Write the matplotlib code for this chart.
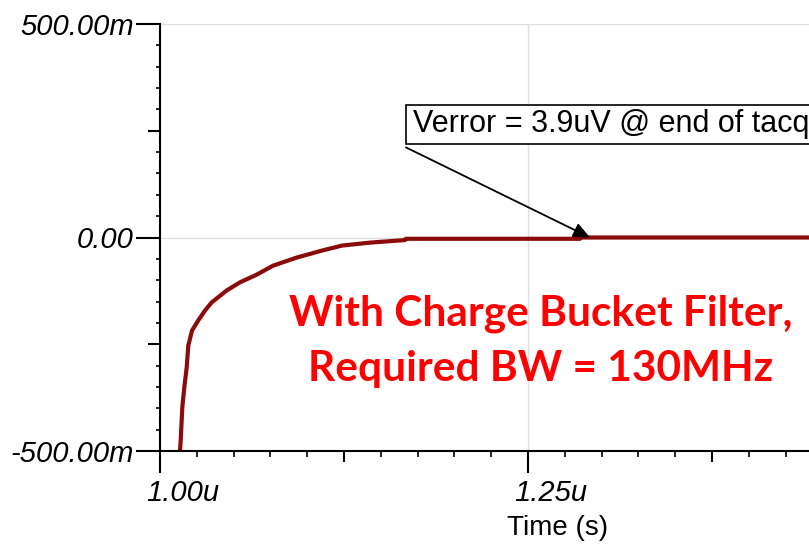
import matplotlib
matplotlib.use("Agg")
import matplotlib.pyplot as plt
from matplotlib.patches import Rectangle
from matplotlib.transforms import ScaledTranslation, blended_transform_factory

# values (time in us, error in mV)
time_us = [1.01359, 1.01406, 1.01515, 1.01651, 1.01814, 1.01923, 1.02174, 1.02602,
           1.03057, 1.03512, 1.04531, 1.05435, 1.06569, 1.07677, 1.09287, 1.11073,
           1.12344, 1.1427, 1.1664, 1.1670, 1.2853, 1.2860, 1.45]
verr_mv = [-500, -475, -398, -351, -304, -253, -218, -194,
           -171, -152, -124, -105, -87, -66, -47, -30,
           -19, -12, -6, -3, -3, 0, 0]

x_ticks = [1.00, 1.25]
x_labels = ["1.00u", "1.25u"]
x_mid_ticks = [1.125, 1.375]
y_ticks = [-500, 0, 500]
y_labels = ["-500.00m", "0.00", "500.00m"]
y_mid_ticks = [-250, 250]

note = "Verror = 3.9uV @ end of tacq"
note_xy = (1.1719, 265)
arrow_from = (1.1671, 211)
arrow_to = (1.2921, 0)
banner = "With Charge Bucket Filter,\nRequired BW = 130MHz"
banner_xy = (1.2588, -243)

W, H = 809, 544
fig = plt.figure(figsize=(W / 100, H / 100), dpi=100)
ax = fig.add_axes([160 / W, 1 - 451 / H, 1 - 160 / W, (451 - 24) / H])

ax.set_xlim(1.0, 1.0 + 649 / 368 * 0.25)
ax.set_ylim(-500, 500)

ax.plot(time_us, verr_mv, color="#8b0a0a", lw=3, solid_capstyle="butt", zorder=3)

for s in ["top", "right"]:
    ax.spines[s].set_visible(False)
for s in ["left", "bottom"]:
    ax.spines[s].set_linewidth(1.5)
    ax.spines[s].set_zorder(4)

ax.set_xticks(x_ticks)
ax.set_xticklabels([])
ax.set_xticks([1.0 + 0.025 * i for i in range(18)], minor=True)
ax.set_yticks(y_ticks)
ax.set_yticklabels(y_labels, family="Liberation Sans", style="italic", size=21)
ax.set_yticks(list(range(-500, 501, 50)), minor=True)

ax.tick_params(axis="x", which="major", length=16, width=1.5)
ax.tick_params(axis="x", which="minor", length=4, width=1.2)
ax.tick_params(axis="y", which="major", length=17, width=1.5, pad=2)
ax.tick_params(axis="y", which="minor", length=3, width=1.2)

# x tick labels sit a little right of their ticks in the original
tr = blended_transform_factory(ax.transData, ax.transAxes) + \
    ScaledTranslation(0.23, -0.42, fig.dpi_scale_trans)
for xv, lab in zip(x_ticks, x_labels):
    ax.text(xv, 0, lab, transform=tr, ha="center", va="center",
            family="Liberation Sans", style="italic", size=21, clip_on=False)

# medium ticks without labels
secx = ax.secondary_xaxis("bottom")
secx.set_xticks(x_mid_ticks)
secx.set_xticklabels([])
secx.tick_params(length=8, width=1.5)
secx.spines["bottom"].set_visible(False)
secy = ax.secondary_yaxis("left")
secy.set_yticks(y_mid_ticks)
secy.set_yticklabels([])
secy.tick_params(length=9, width=1.5)
secy.spines["left"].set_visible(False)

ax.grid(True, which="major", color="#e0e0e0", lw=1)
ax.set_axisbelow(True)

fig.text(558 / W, 1 - 528 / H, "Time (s)", ha="center", va="center",
         family="Liberation Sans", size=20)

ax.annotate("", xy=arrow_to, xytext=arrow_from,
            arrowprops=dict(arrowstyle="-|>,head_length=1.0,head_width=0.45",
                            color="black", lw=1.3, shrinkA=0, shrinkB=0), zorder=5)
# note box runs off the right edge, like the original
box = Rectangle((406 / W, 1 - 144 / H), 420 / W, 39 / H, transform=fig.transFigure,
                fc="white", ec="black", lw=1.2, zorder=5)
fig.patches.append(box)
fig.text(413 / W, 1 - 124 / H, note, ha="left", va="center",
         family="Liberation Sans", size=22, zorder=6)

ax.text(banner_xy[0], banner_xy[1], banner,
        ha="center", va="center", color="#ff0000", family="Lato", weight="bold",
        size=30.5, linespacing=1.55, zorder=6)

fig.savefig("out.png", dpi=100)
